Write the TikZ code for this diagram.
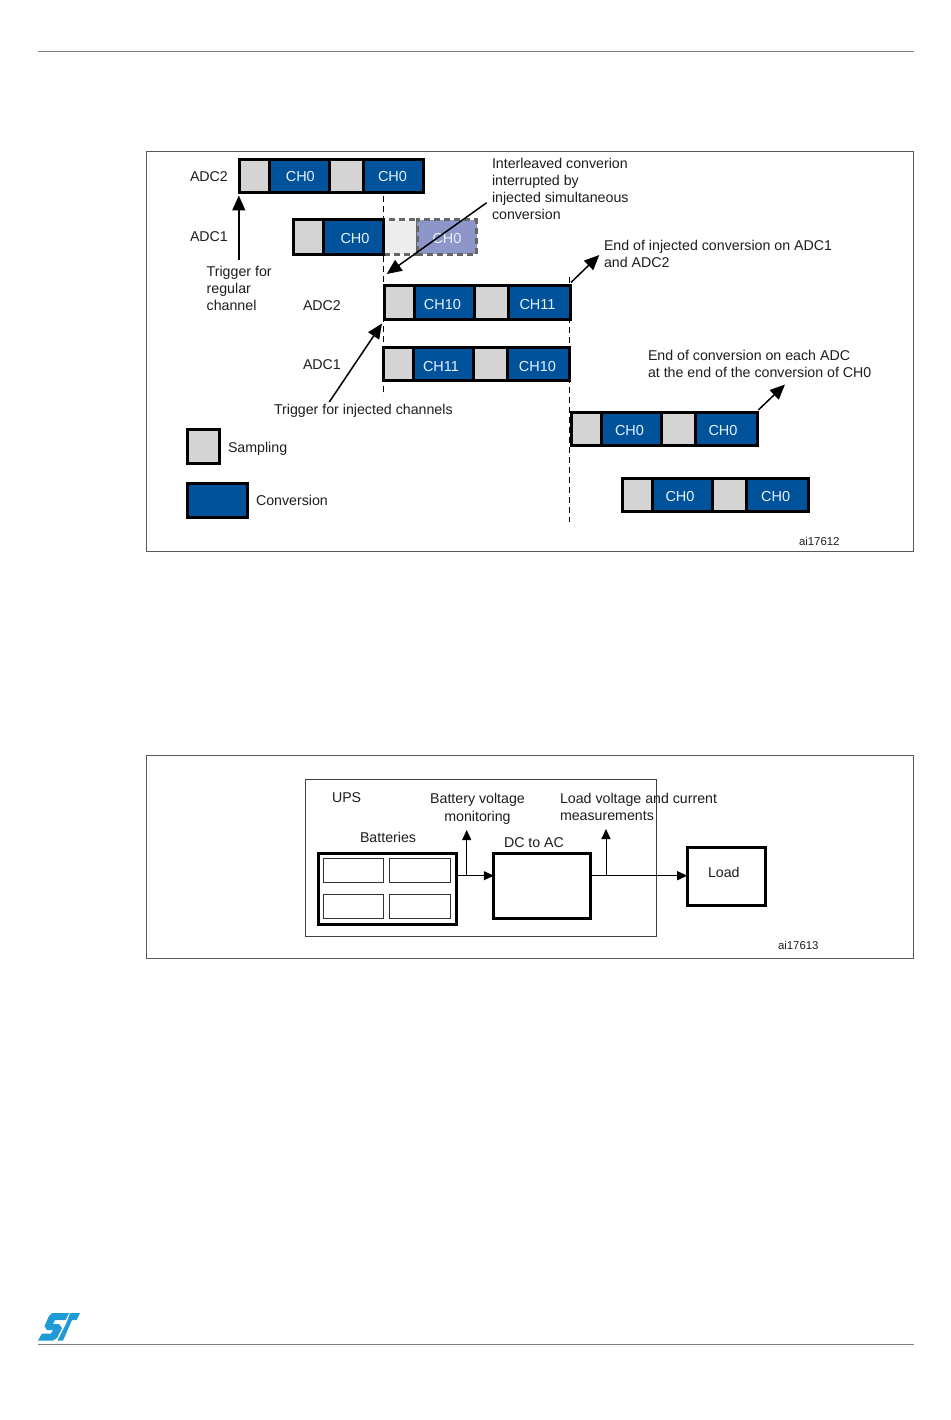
\documentclass[tikz,border=0pt]{standalone}
\usepackage{fontspec}
\setmainfont{Liberation Sans}
\usetikzlibrary{arrows.meta}
\definecolor{convblue}{HTML}{00529B}
\definecolor{sampgray}{HTML}{D4D4D4}
\definecolor{ghostblue}{HTML}{8C96C8}
\definecolor{ghostgray}{HTML}{EDEDED}
\definecolor{ghostline}{HTML}{666666}
\definecolor{inkgray}{HTML}{1E1E1E}
\definecolor{rulegray}{HTML}{808080}
\definecolor{logoblue}{HTML}{1E9BD7}
\definecolor{chtext}{HTML}{E6F3FF}
\tikzset{
  cellbase/.style={draw=black,line width=3pt,inner sep=0pt,outer sep=0pt,anchor=north west},
  samp/.style={cellbase,fill=sampgray},
  conv/.style={cellbase,fill=convblue},
  ghostsamp/.style={cellbase,draw=ghostline,fill=ghostgray,dash pattern=on 6pt off 4pt},
  ghostconv/.style={cellbase,draw=ghostline,fill=ghostblue,dash pattern=on 6pt off 4pt},
  chlabel/.style={inner sep=0pt,outer sep=0pt,anchor=center,text=chtext,font=\fontsize{14.5}{17}\selectfont},
  lbl/.style={anchor=base west,inner sep=0pt,outer sep=0pt,align=left,text=inkgray,font=\fontsize{14.2}{17}\selectfont},
  lblc/.style={lbl,anchor=base,align=center,font=\fontsize{14.2}{18}\selectfont},
  tiny/.style={lbl,font=\fontsize{11.4}{13}\selectfont},
  frame/.style={draw=black!65,line width=0.9pt,inner sep=0pt,outer sep=0pt,anchor=north west},
  upsframe/.style={draw=black!75,line width=0.9pt,inner sep=0pt,outer sep=0pt,anchor=north west},
  arr/.style={line width=1.5pt,-{Triangle[length=15pt,width=13pt]}},
  smallarr/.style={line width=1pt,-{Triangle[length=10pt,width=9pt]}},
  tick/.style={line width=1pt,dash pattern=on 6pt off 4pt},
  thick box/.style={draw=black,line width=3pt,inner sep=0pt,outer sep=0pt,anchor=north west,fill=white},
  thin box/.style={draw=black!80,line width=0.8pt,inner sep=0pt,outer sep=0pt,anchor=north west,fill=white},
  rulei/.style={draw=rulegray,line width=1.2pt},
}
\newcommand{\cellbox}[7]{\node[#2,minimum width={(#4-#3)*1pt},minimum height={(#6-#5)*1pt}] (#1) at (#3,#5) {#7};}
\begin{document}
\begin{tikzpicture}[x=1pt,y=-1pt]
\useasboundingbox (0,0) rectangle (950,1420);
\fill[white] (0,0) rectangle (950,1420);
% page rules
\coordinate (rtl) at (38,51.5); \coordinate (rtr) at (914,51.5);
\coordinate (rbl) at (38,1344.5); \coordinate (rbr) at (914,1344.5);
\draw[rulei] (rtl) -- (rtr);
\draw[rulei] (rbl) -- (rbr);
% frames
\cellbox{frameA}{frame}{146}{913}{151}{551}{}
\cellbox{frameB}{frame}{146}{913}{755.5}{958}{}
% dashed verticals (behind the bars)
\coordinate (va1) at (383.3,196); \coordinate (va2) at (383.3,396);
\coordinate (vb1) at (569.5,277); \coordinate (vb2) at (569.5,522);
\draw[tick] (va1) -- (va2);
\draw[tick] (vb1) -- (vb2);
% row ADC2 regular
\cellbox{aS1}{samp}{239.8}{269.5}{159.8}{192.8}{}
\cellbox{aC1}{conv}{269.5}{329.7}{159.8}{192.8}{}
\cellbox{aS2}{samp}{329.7}{363.3}{159.8}{192.8}{}
\cellbox{aC2}{conv}{363.3}{423.2}{159.8}{192.8}{}
\node[chlabel] (aT1) at (300.3,176.5) {CH0};
\node[chlabel] (aT2) at (392.5,176.5) {CH0};
% row ADC1 regular with interrupted part
\cellbox{bG1}{ghostsamp}{383.5}{417}{219.8}{254.2}{}
\cellbox{bG2}{ghostconv}{417}{476.5}{219.8}{254.2}{}
\cellbox{bS1}{samp}{293.5}{323.3}{219.8}{254.2}{}
\cellbox{bC1}{conv}{323.3}{383.5}{219.8}{254.2}{}
\node[chlabel] (bT1) at (355,238.5) {CH0};
\node[chlabel] (bT2) at (447,238.5) {CH0};
% injected ADC2
\cellbox{cS1}{samp}{384.8}{414.3}{285.5}{319.2}{}
\cellbox{cC1}{conv}{414.3}{474}{285.5}{319.2}{}
\cellbox{cS2}{samp}{474}{508.3}{285.5}{319.2}{}
\cellbox{cC2}{conv}{508.3}{570.2}{285.5}{319.2}{}
\node[chlabel] (cT1) at (442.5,304.3) {CH10};
\node[chlabel] (cT2) at (537.5,304.3) {CH11};
% injected ADC1
\cellbox{dS1}{samp}{383.8}{413.3}{347.5}{380.8}{}
\cellbox{dC1}{conv}{413.3}{473.3}{347.5}{380.8}{}
\cellbox{dS2}{samp}{473.3}{507.3}{347.5}{380.8}{}
\cellbox{dC2}{conv}{507.3}{569.5}{347.5}{380.8}{}
\node[chlabel] (dT1) at (441,366.3) {CH11};
\node[chlabel] (dT2) at (537.5,366.3) {CH10};
% resumed rows
\cellbox{eS1}{samp}{571.5}{601.7}{412.2}{445.8}{}
\cellbox{eC1}{conv}{601.7}{661.7}{412.2}{445.8}{}
\cellbox{eS2}{samp}{661.7}{695.7}{412.2}{445.8}{}
\cellbox{eC2}{conv}{695.7}{757.5}{412.2}{445.8}{}
\node[chlabel] (eT1) at (629.5,430.3) {CH0};
\node[chlabel] (eT2) at (723,430.3) {CH0};
\cellbox{fS1}{samp}{622.8}{652.3}{478.2}{511.2}{}
\cellbox{fC1}{conv}{652.3}{712.7}{478.2}{511.2}{}
\cellbox{fS2}{samp}{712.7}{746.7}{478.2}{511.2}{}
\cellbox{fC2}{conv}{746.7}{808.5}{478.2}{511.2}{}
\node[chlabel] (fT1) at (680,496.3) {CH0};
\node[chlabel] (fT2) at (775.7,496.3) {CH0};
% legend
\cellbox{lS}{samp}{187.5}{219.5}{429}{463}{}
\cellbox{lC}{conv}{187.5}{247.5}{483}{517}{}
% labels
\node[lbl] (t1) at (190,182) {ADC2};
\node[lbl] (t2) at (190,241.5) {ADC1};
\node[lbl] (t3) at (206.7,310) {Trigger for\\regular\\channel};
\node[lbl] (t4) at (303,310) {ADC2};
\node[lbl] (t5) at (303,369) {ADC1};
\node[lbl] (t6) at (274,414) {Trigger for injected channels};
\node[lbl] (t7) at (228,452) {Sampling};
\node[lbl] (t8) at (256,505) {Conversion};
\node[lbl] (t9) at (492,219.6) {Interleaved converion\\interrupted by\\injected simultaneous\\conversion};
\node[lbl] (t10) at (604,268) {End of injected conversion on ADC1\\and ADC2};
\node[lbl] (t11) at (648,377) {End of conversion on each ADC\\at the end of the conversion of CH0};
\node[tiny] (t12) at (799,545) {ai17612};
% arrows upper
\coordinate (p1) at (238.8,260); \coordinate (q1) at (238.8,195.5);
\coordinate (p2) at (329.3,402); \coordinate (q2) at (382,323.5);
\coordinate (p3) at (486.7,202.7); \coordinate (q3) at (386.7,274);
\coordinate (p4) at (571,282.5); \coordinate (q4) at (599.3,255);
\coordinate (p5) at (758.3,410); \coordinate (q5) at (785,384.5);
\draw[arr] (p1) -- (q1);
\draw[arr] (p2) -- (q2);
\draw[arr] (p3) -- (q3);
\draw[arr] (p4) -- (q4);
\draw[arr] (p5) -- (q5);
% UPS
\cellbox{ups}{upsframe}{305.5}{656.7}{779.5}{936.3}{}
\cellbox{bat}{thick box}{318}{456}{853.2}{924.2}{}
\cellbox{b1}{thin box}{323.5}{383.5}{858.5}{882}{}
\cellbox{b2}{thin box}{389}{450.5}{858.5}{882}{}
\cellbox{b3}{thin box}{323.5}{383.5}{894.5}{918}{}
\cellbox{b4}{thin box}{389}{450.5}{894.5}{918}{}
\cellbox{dc}{thick box}{493.8}{590.2}{853.2}{918.5}{}
\cellbox{load}{thick box}{687.2}{765.2}{847.2}{905.8}{}
\node[lbl] (tu1) at (332,802) {UPS};
\node[lblc] (tu2) at (477.5,821) {Battery voltage\\monitoring};
\node[lbl] (tu3) at (560,820) {Load voltage and current\\measurements};
\node[lbl] (tu4) at (360,842) {Batteries};
\node[lbl] (tu5) at (504,847) {DC to AC};
\node[lbl] (tu6) at (708,877) {Load};
\node[tiny] (tu7) at (778,949) {ai17613};
\coordinate (w1) at (466.7,875.7); \coordinate (w2) at (606,875.7);
\coordinate (u1) at (466.7,830); \coordinate (u2) at (606,829);
\draw[smallarr] (bat.east |- w1) -- (dc.west |- w1);
\draw[smallarr] (dc.east |- w2) -- (load.west |- w2);
\draw[smallarr] (w1) -- (u1);
\draw[smallarr] (w2) -- (u2);
% logo
\fill[logoblue] (52,1313) -- (69,1313) -- (65.5,1320) -- (55,1320) -- (53,1324) -- (59,1324) -- (62,1328) -- (57,1338) -- (53,1340.5) -- (38,1340.5) -- (42,1333.5) -- (51,1333.5) -- (53,1330) -- (47,1330) -- (44.5,1326) -- (49,1316) -- cycle;
\fill[logoblue] (70,1313) -- (80,1313) -- (76.5,1320) -- (72,1320) -- (63,1340.5) -- (57.5,1340.5) -- (65.5,1325) -- (67.5,1320) -- cycle;
\end{tikzpicture}
\end{document}
